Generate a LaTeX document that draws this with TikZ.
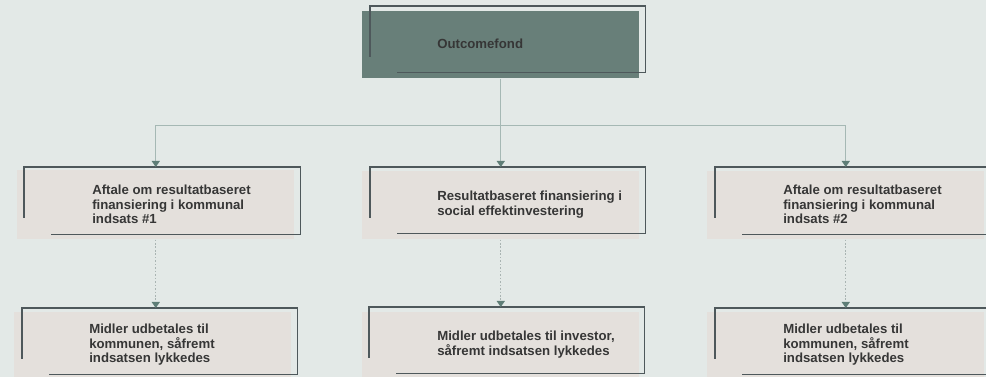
\documentclass[tikz,border=0pt]{standalone}
\usepackage{fontspec}
\setmainfont{Liberation Sans}
\usetikzlibrary{arrows.meta,calc}
\definecolor{bg}{HTML}{E3E9E7}
\definecolor{boxfill}{HTML}{E4E0DC}
\definecolor{topfill}{HTML}{687F79}
\definecolor{frameline}{HTML}{4E585B}
\definecolor{conncol}{HTML}{A5B8B4}
\definecolor{tipcol}{HTML}{5F7E77}
\definecolor{txt}{HTML}{363636}
\definecolor{dotcol}{HTML}{A9B4B2}
\begin{document}
\begin{tikzpicture}[x=0.75pt,y=-0.75pt,
 fillbox/.style={rectangle, fill=boxfill, inner sep=0, minimum width=277*0.75pt, minimum height=68*0.75pt, anchor=north west},
 framebox/.style={rectangle, inner sep=0, minimum width=275*0.75pt, minimum height=66*0.75pt, anchor=north west},
 frameedge/.style={draw=frameline, line width=1.1pt},
 lbl/.style={anchor=west, inner sep=0, text=txt, font=\fontsize{9.9pt}{10.9pt}\selectfont\bfseries, align=left},
 conn/.style={draw=conncol, line width=0.9pt},
 tip/.style={-{Triangle[length=4.5pt,width=6pt,color=tipcol]}},
 dotconn/.style={draw=dotcol, line width=0.9pt, dash pattern=on 1.2pt off 1.4pt},
]
\path[use as bounding box, fill=bg] (0,0) rectangle (986,377);

% top box
\node[fillbox, fill=topfill, minimum height=67*0.75pt] (top) at (362,11) {};
\node[framebox] (tf) at (370,6) {};
\node[lbl] (tt) at (437,43.5) {Outcomefond};

% row 1
\node[fillbox, minimum height=69*0.75pt] (a) at (17,170) {};
\node[framebox, minimum width=276*0.75pt, minimum height=67*0.75pt] (af) at (24,167) {};
\node[lbl] (at) at (92,204.5) {Aftale om resultatbaseret\\finansiering i kommunal\\indsats \#1};

\node[fillbox] (b) at (362,171) {};
\node[framebox] (bf) at (370,167) {};
\node[lbl] (bt) at (437,204.5) {Resultatbaseret finansiering i\\social effektinvestering};

\node[fillbox] (c) at (707,171) {};
\node[framebox, minimum height=67*0.75pt] (cf) at (715,167) {};
\node[lbl] (ct) at (783,204.5) {Aftale om resultatbaseret\\finansiering i kommunal\\indsats \#2};

% row 2
\node[fillbox] (d) at (14,312) {};
\node[framebox] (df) at (22,308) {};
\node[lbl] (dt) at (89,344.7) {Midler udbetales til\\kommunen, såfremt\\indsatsen lykkedes};

\node[fillbox] (e) at (362,312) {};
\node[framebox] (ef) at (369,307) {};
\node[lbl] (et) at (437,344.5) {Midler udbetales til investor,\\såfremt indsatsen lykkedes};

\node[fillbox] (f) at (707,312) {};
\node[framebox] (ff) at (715,308) {};
\node[lbl] (ft) at (783,344.7) {Midler udbetales til\\kommunen, såfremt\\indsatsen lykkedes};

% frames
\foreach \fr in {tf,af,bf,cf,df,ef,ff}
  \draw[frameedge] ([yshift=-38.25pt]\fr.north west) -- (\fr.north west) -- (\fr.north east) -- (\fr.south east) -- ([xshift=20.25pt]\fr.south west);

% connectors
\coordinate (hub) at ($(top.south)+(0,47)$);
\draw[conn] (top.south) -- (hub);
\draw[conn,tip] (hub) -| (a.north |- af.north);
\draw[conn,tip] (hub) -- (b.north |- bf.north);
\draw[conn,tip] (hub) -| (c.north |- cf.north);

\draw[dotconn,tip] (a.south) -- (a.south |- df.north);
\draw[dotconn,tip] (b.south) -- (b.south |- ef.north);
\draw[dotconn,tip] (c.south) -- (c.south |- ff.north);
\end{tikzpicture}
\end{document}
